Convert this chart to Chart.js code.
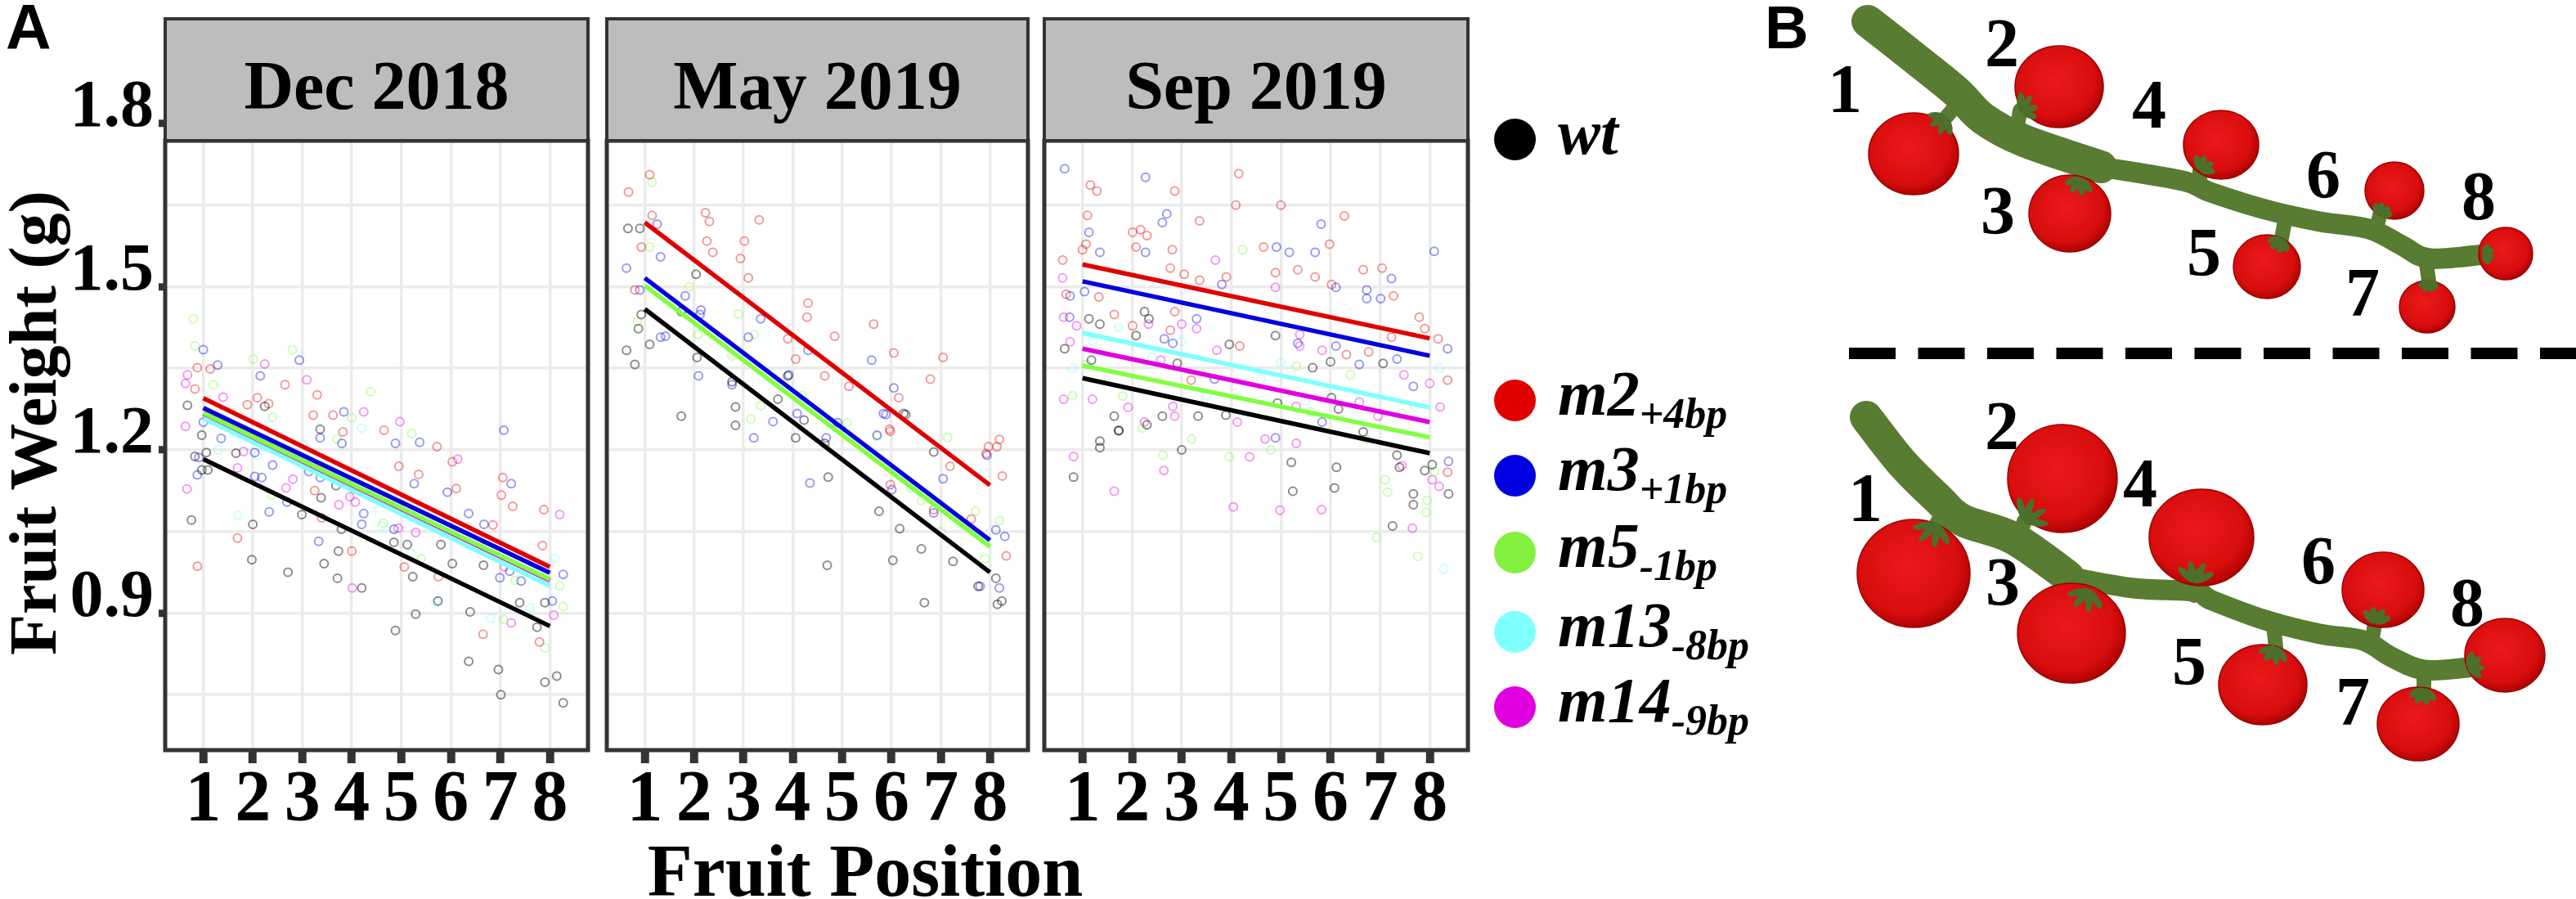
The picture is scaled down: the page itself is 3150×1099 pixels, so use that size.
<!DOCTYPE html>
<html lang="en">
  <head>
    <meta charset="UTF-8" />
    <title>Fruit weight by fruit position</title>
    <script src="https://cdn.jsdelivr.net/npm/chart.js"></script>
    <style>
      * {
        box-sizing: border-box;
        margin: 0;
        padding: 0;
      }
      html,
      body {
        width: 3150px;
        height: 1099px;
        background: #fff;
        overflow: hidden;
      }
      .figure {
        position: relative;
        width: 3150px;
        height: 1099px;
        font-family: "Liberation Serif", "Times New Roman", Tinos, "DejaVu Serif", serif;
      }
      .facet {
        position: absolute;
        top: 0;
      }
      .panel-letter {
        position: absolute;
        font-family: "Liberation Sans", Arial, Arimo, sans-serif;
        font-weight: bold;
        line-height: 1;
      }
      .axis-title {
        position: absolute;
        font-weight: bold;
        line-height: 1;
        white-space: nowrap;
        color: #000;
      }
      .axis-title--y {
        font-size: 82px;
        transform: translate(-50%, -50%) rotate(-90deg);
      }
      .axis-title--x {
        font-size: 90px;
        transform: translateX(-50%);
      }
      .key__dot {
        position: absolute;
        width: 51px;
        height: 51px;
        border-radius: 50%;
      }
      .key__label {
        position: absolute;
        font-style: italic;
        font-weight: bold;
        font-size: 78px;
        line-height: 1;
        white-space: nowrap;
      }
      .key__label sub {
        font-size: 52px;
        vertical-align: -16px;
      }
      svg.drawing {
        position: absolute;
        left: 0;
        top: 0;
      }
    </style>
  </head>
  <body>
    <div class="figure" id="figure">
      <canvas class="facet" id="facetDec" width="726" height="1099" style="left: 0px"></canvas>
      <canvas class="facet" id="facetMay" width="529" height="1099" style="left: 735px"></canvas>
      <canvas class="facet" id="facetSep" width="532" height="1099" style="left: 1270px"></canvas>

      <div class="panel-letter" style="left: 7px; top: -5px; font-size: 77px">A</div>
      <div class="panel-letter" style="left: 2158px; top: -3px; font-size: 74px">B</div>

      <div class="axis-title axis-title--y" style="left: 41px; top: 517px">Fruit Weight (g)</div>
      <div class="axis-title axis-title--x" style="left: 1058px; top: 1020px">Fruit Position</div>

      <div id="legend"></div>
      <svg class="drawing" id="drawing" width="3150" height="1099" viewBox="0 0 3150 1099"></svg>
    </div>

    <script>
      // ---- data ----
      const positions = [1, 2, 3, 4, 5, 6, 7, 8];
      const yGridValues = [0.75, 0.9, 1.05, 1.2, 1.35, 1.5, 1.65, 1.8];
      const yLabelValues = [0.9, 1.2, 1.5, 1.8];
      const facetNames = ["Dec 2018", "May 2019", "Sep 2019"];
      const genotypes = ["wt", "m2", "m3", "m5", "m13", "m14"];
      const alleles = ["", "+4bp", "+1bp", "-1bp", "-8bp", "-9bp"];
      const colours = ["#000000", "#e00000", "#0000e0", "#80ff40", "#80ffff", "#e000e0"];

      // fitted line values at position 1 and position 8 (same order as genotypes)
      const decFitAt1 = [1.183, 1.295, 1.277, 1.268, 1.258, 1.266];
      const decFitAt8 = [0.876, 0.985, 0.974, 0.962, 0.95, 0.96];
      const mayFitAt1 = [1.459, 1.618, 1.516, 1.502, null, null];
      const mayFitAt8 = [0.975, 1.135, 1.034, 1.022, null, null];
      const sepFitAt1 = [1.332, 1.541, 1.51, 1.355, 1.415, 1.386];
      const sepFitAt8 = [1.194, 1.405, 1.373, 1.223, 1.278, 1.251];

      // jittered single fruit weights [position, weight]
      const decWt = [[0.68,1.282],[0.97,1.227],[2.24,1.28],[3.36,1.238],[0.83,1.188],[1.06,1.195],[0.97,1.163],[1.09,1.163],[0.76,1.071],[1.66,1.194],[2.0,1.063],[1.98,0.998],[2.71,0.975],[3.38,1.112],[2.99,1.081],[3.44,0.991],[3.73,1.014],[3.71,0.964],[3.68,1.134],[3.79,1.054],[4.2,0.946],[4.85,1.03],[5.12,1.026],[5.23,0.967],[5.29,0.898],[4.88,0.868],[5.8,1.026],[6.03,0.991],[5.74,0.922],[6.66,0.988],[6.39,0.902],[6.36,0.811],[6.96,0.796],[7.01,0.75],[7.9,0.919],[7.74,0.874],[7.9,0.773],[8.14,0.784],[8.27,0.735],[7.39,0.919]];
      const decM2 = [[0.88,1.351],[1.14,1.349],[0.83,1.312],[1.89,1.283],[2.09,1.296],[2.32,1.285],[2.65,1.32],[3.3,1.301],[3.22,1.264],[3.62,1.264],[3.82,1.233],[4.65,1.236],[5.72,1.206],[1.69,1.038],[0.88,0.986],[3.25,1.125],[3.39,1.075],[4.0,1.014],[5.06,0.985],[5.35,1.155],[4.95,1.17],[6.03,1.178],[6.11,1.129],[5.75,0.967],[6.85,1.062],[7.05,1.149],[7.02,1.117],[7.25,1.096],[6.65,0.861],[7.88,1.09],[7.85,1.024],[7.79,0.847]];
      const decM3 = [[1.0,1.384],[1.29,1.356],[1.0,1.251],[1.36,1.221],[2.15,1.336],[2.94,1.365],[3.84,1.27],[3.36,1.222],[3.8,1.212],[4.88,1.212],[5.37,1.214],[7.07,1.236],[0.91,1.186],[0.88,1.154],[2.04,1.195],[2.4,1.172],[2.04,1.151],[2.18,1.149],[2.33,1.086],[2.69,1.104],[3.13,1.16],[3.36,1.149],[3.33,1.032],[4.24,1.083],[4.2,1.063],[4.85,1.054],[5.26,1.138],[5.93,1.122],[6.36,1.083],[6.67,1.063],[7.22,1.138],[7.19,0.977],[6.99,0.965],[7.42,0.959],[8.27,0.971],[8.05,0.922]];
      const decM5 = [[0.8,1.441],[0.83,1.391],[2.01,1.367],[2.8,1.384],[4.0,1.259],[4.38,1.307],[5.21,1.23],[2.38,1.117],[4.64,1.065],[7.07,0.888],[8.27,0.912],[7.9,0.836],[1.2,1.32],[2.4,1.26],[3.7,1.22],[5.4,1.0],[6.6,1.02],[7.3,0.96],[8.2,0.95]];
      const decM13 = [[1.3,1.2],[2.1,1.19],[4.6,1.06],[5.7,0.92],[6.8,0.89],[7.6,0.91],[3.0,1.21],[1.7,1.08],[5.2,1.01],[8.1,1.0],[6.3,1.04],[4.2,1.24]];
      const decM14 = [[0.68,1.338],[0.64,1.322],[0.64,1.243],[1.4,1.297],[2.24,1.358],[3.09,1.329],[4.24,1.27],[4.97,1.252],[0.67,1.128],[1.81,1.197],[1.69,1.167],[2.81,1.146],[2.67,1.13],[3.74,1.099],[3.96,1.114],[4.07,1.104],[4.01,0.946],[4.94,1.056],[5.29,1.048],[6.14,1.183],[7.08,0.985],[7.22,0.882],[8.2,1.081],[8.08,0.896]];

      const mayWt = [[0.66,1.607],[0.9,1.607],[0.93,1.449],[0.87,1.423],[1.1,1.394],[0.63,1.383],[0.8,1.357],[2.04,1.523],[1.74,1.454],[2.06,1.37],[2.77,1.325],[1.74,1.262],[2.84,1.279],[2.84,1.245],[3.7,1.293],[3.9,1.336],[4.06,1.222],[6.25,1.267],[4.65,1.212],[6.29,1.265],[4.23,1.255],[4.72,1.15],[6.86,1.196],[5.75,1.087],[6.17,1.055],[6.03,0.997],[4.7,0.988],[6.61,1.018],[7.25,0.995],[6.67,0.919],[7.76,0.949],[8.12,0.964],[8.15,0.916],[8.24,0.922]];
      const mayM2 = [[1.1,1.706],[0.67,1.674],[1.15,1.631],[0.93,1.573],[0.8,1.494],[2.23,1.636],[2.31,1.62],[3.32,1.623],[2.26,1.584],[2.38,1.563],[3.02,1.584],[2.94,1.552],[3.1,1.516],[4.31,1.47],[4.29,1.444],[3.9,1.404],[4.06,1.367],[4.85,1.409],[4.65,1.336],[5.64,1.431],[6.05,1.378],[7.05,1.37],[6.79,1.33],[6.15,1.296],[5.96,1.238],[5.14,1.317],[8.14,1.206],[7.92,1.193],[5.98,1.234],[7.19,1.17],[8.19,1.219],[7.97,1.206],[8.25,1.152],[5.98,1.136],[8.33,1.005],[6.86,1.09],[7.62,1.073]];
      const mayM3 = [[1.25,1.615],[1.32,1.555],[0.63,1.534],[0.9,1.494],[1.32,1.407],[1.82,1.483],[2.14,1.457],[2.12,1.449],[1.42,1.409],[2.09,1.336],[2.77,1.32],[3.1,1.407],[3.35,1.441],[3.21,1.222],[3.6,1.252],[3.92,1.338],[4.09,1.267],[4.31,1.383],[5.6,1.365],[6.05,1.314],[5.84,1.267],[5.71,1.227],[5.89,1.265],[4.91,1.25],[4.68,1.222],[4.35,1.139],[7.05,1.147],[7.94,1.19],[6.01,1.127],[7.8,0.949],[8.19,0.946],[8.12,1.053],[8.3,1.041],[6.86,1.084]];
      const mayM5 = [[1.15,1.692],[1.1,1.573],[0.85,1.436],[2.08,1.412],[3.22,1.412],[2.77,1.373],[3.35,1.281],[3.15,1.257],[5.71,1.225],[7.14,1.223],[8.19,1.07],[7.71,1.087],[6.61,1.107],[4.2,1.3],[5.1,1.25],[6.4,1.13],[7.0,1.05],[7.9,1.0],[2.9,1.45],[1.9,1.5]];
      const mayM13 = [];
      const mayM14 = [];

      const sepWt = [[1.13,1.441],[1.35,1.431],[2.25,1.454],[2.34,1.441],[2.08,1.41],[3.96,1.394],[4.89,1.41],[7.06,1.359],[5.64,1.351],[6.0,1.362],[2.91,1.359],[1.18,1.365],[0.64,1.386],[1.64,1.262],[2.61,1.262],[2.3,1.246],[1.73,1.235],[3.33,1.262],[3.89,1.264],[4.93,1.286],[6.02,1.296],[6.16,1.275],[6.66,1.233],[1.35,1.204],[1.73,1.236],[1.35,1.216],[0.82,1.15],[3.0,1.2],[5.21,1.177],[5.24,1.124],[6.08,1.13],[6.12,1.168],[7.25,1.06],[7.67,1.119],[7.67,1.099],[7.39,1.168],[8.05,1.173],[7.9,1.162],[8.38,1.119],[7.34,1.19]];
      const sepM2 = [[1.16,1.687],[1.29,1.676],[2.86,1.676],[1.1,1.631],[2.01,1.6],[2.17,1.605],[2.3,1.594],[1.07,1.578],[1.0,1.568],[2.08,1.573],[2.81,1.568],[4.15,1.708],[4.09,1.65],[5.0,1.65],[3.36,1.621],[6.28,1.63],[4.65,1.573],[5.98,1.578],[2.77,1.534],[3.05,1.523],[3.36,1.512],[3.9,1.518],[4.89,1.526],[5.34,1.531],[5.69,1.518],[6.02,1.504],[6.66,1.531],[7.04,1.534],[7.27,1.483],[0.6,1.549],[0.67,1.486],[1.33,1.481],[1.64,1.449],[2.86,1.454],[2.01,1.428],[2.77,1.42],[4.17,1.391],[6.32,1.375],[6.77,1.38],[7.23,1.407],[7.79,1.444],[7.9,1.423],[8.17,1.404],[8.36,1.328],[3.19,1.328],[8.36,1.159]];
      const sepM3 = [[0.64,1.717],[2.27,1.701],[2.7,1.634],[2.61,1.618],[1.13,1.6],[1.35,1.563],[2.27,1.563],[5.81,1.615],[4.91,1.573],[5.17,1.563],[5.69,1.563],[8.09,1.565],[3.81,1.504],[6.11,1.499],[7.23,1.515],[6.73,1.494],[7.01,1.478],[6.73,1.478],[0.75,1.483],[1.04,1.491],[0.74,1.444],[3.3,1.441],[2.65,1.404],[2.82,1.396],[5.34,1.396],[6.11,1.391],[6.58,1.357],[7.34,1.367],[8.36,1.386],[7.67,1.317],[3.66,1.33],[5.83,1.251],[4.89,1.222],[8.38,1.179]];
      const sepM5 = [[4.23,1.568],[6.4,1.338],[5.31,1.354],[1.07,1.357],[1.81,1.299],[7.43,1.267],[2.62,1.19],[3.96,1.187],[6.93,1.039],[7.76,1.004],[7.95,1.107],[7.15,1.122],[7.93,1.085],[7.1,1.145],[0.8,1.3],[2.2,1.24],[3.2,1.22],[4.8,1.2],[5.6,1.27],[6.7,1.22],[8.1,1.16]];
      const sepM13 = [[1.73,1.425],[1.2,1.4],[2.4,1.37],[3.5,1.3],[4.6,1.33],[5.5,1.29],[6.6,1.3],[7.7,1.28],[8.2,1.35],[0.8,1.35],[8.28,0.981],[3.0,1.4],[5.0,1.36]];
      const sepM14 = [[3.68,1.549],[0.6,1.516],[4.89,1.499],[0.62,1.444],[0.88,1.428],[2.33,1.431],[3.0,1.431],[3.3,1.423],[5.38,1.412],[5.38,1.391],[5.83,1.383],[7.48,1.338],[8.0,1.322],[8.21,1.279],[2.58,1.365],[3.71,1.383],[0.75,1.399],[1.2,1.293],[0.62,1.293],[1.92,1.278],[2.82,1.28],[2.86,1.262],[2.25,1.251],[4.12,1.251],[5.31,1.28],[6.58,1.288],[6.96,1.262],[4.68,1.22],[5.31,1.212],[0.82,1.188],[1.64,1.124],[2.64,1.162],[4.37,1.187],[4.04,1.095],[4.98,1.089],[5.82,1.09],[7.65,1.056],[7.44,1.171],[8.05,1.145],[8.19,1.133]];

      const serifFamily = '"Liberation Serif", "Times New Roman", Tinos, "DejaVu Serif", serif';

      // ---- facet panels ----
      function withAlpha(hex, a) {
        const n = parseInt(hex.slice(1), 16);
        return `rgba(${(n >> 16) & 255}, ${(n >> 8) & 255}, ${n & 255}, ${a})`;
      }

      const facetStrip = {
        id: "facetStrip",
        afterDraw(chart, args, opts) {
          const { ctx, chartArea: a } = chart;
          const stripTop = 23;
          const panelTop = 172;
          ctx.save();
          ctx.lineWidth = 5;
          ctx.strokeStyle = "#333333";
          ctx.strokeRect(a.left, panelTop, a.right - a.left, a.bottom - panelTop);
          ctx.fillStyle = "#bdbdbd";
          ctx.fillRect(a.left, stripTop, a.right - a.left, panelTop - stripTop);
          ctx.lineWidth = 4;
          ctx.strokeRect(a.left, stripTop, a.right - a.left, panelTop - stripTop);
          ctx.fillStyle = "#000";
          ctx.font = "bold 84px " + serifFamily;
          ctx.textAlign = "center";
          ctx.textBaseline = "alphabetic";
          ctx.fillText(opts.label, (a.left + a.right) / 2, 133);
          ctx.restore();
        },
      };

      const lineOrder = [2, 0, 1, 4, 3, 5];

      function buildDatasets(points, fitAt1, fitAt8) {
        const sets = [];
        genotypes.forEach((g, i) => {
          sets.push({
            label: g + " points",
            data: points[i].map((p) => ({ x: p[0], y: p[1] })),
            showLine: false,
            pointStyle: "circle",
            pointRadius: 5,
            pointBorderWidth: 2,
            pointBackgroundColor: "rgba(0,0,0,0)",
            pointBorderColor: withAlpha(colours[i], i === 0 ? 0.45 : 0.4),
            order: 10,
          });
        });
        genotypes.forEach((g, i) => {
          if (fitAt1[i] == null) return;
          sets.push({
            label: g + " fit",
            data: [
              { x: positions[0], y: fitAt1[i] },
              { x: positions[positions.length - 1], y: fitAt8[i] },
            ],
            showLine: true,
            borderColor: colours[i],
            borderWidth: 5.5,
            pointRadius: 0,
            order: lineOrder[i],
          });
        });
        return sets;
      }

      function facetOptions(label, first) {
        const tickFont = { family: serifFamily, weight: "bold", size: 88, lineHeight: 1 };
        return {
          responsive: false,
          devicePixelRatio: 1,
          animation: false,
          events: [],
          layout: { padding: { top: 151, right: 4, bottom: 0, left: first ? 0 : 4 } },
          plugins: {
            legend: { display: false },
            tooltip: { enabled: false },
            facetStrip: { label },
          },
          scales: {
            x: {
              type: "linear",
              min: 0.23,
              max: 8.77,
              afterBuildTicks: (s) => {
                s.ticks = positions.map((v) => ({ value: v }));
              },
              afterFit: (s) => {
                s.height = 182;
              },
              border: { display: false },
              grid: {
                color: "#ebebeb",
                lineWidth: 3.5,
                tickColor: "#333333",
                tickWidth: 10,
                tickLength: 16,
              },
              ticks: {
                autoSkip: false,
                maxRotation: 0,
                minRotation: 0,
                padding: 2,
                color: "#000",
                font: tickFont,
                callback: (v) => String(v),
              },
            },
            y: {
              type: "linear",
              min: 0.648,
              max: 1.8,
              afterBuildTicks: (s) => {
                s.ticks = yGridValues.map((v) => ({ value: v }));
              },
              afterFit: (s) => {
                s.width = first ? 202 : 0;
              },
              border: { display: false },
              grid: {
                color: "#ebebeb",
                lineWidth: 3.5,
                drawTicks: first,
                tickLength: 8,
                tickWidth: 9,
                tickColor: (ctx) =>
                  ctx.tick && yLabelValues.some((m) => Math.abs(m - ctx.tick.value) < 1e-6)
                    ? "#333333"
                    : "rgba(0,0,0,0)",
              },
              ticks: {
                display: first,
                autoSkip: false,
                padding: 6,
                labelOffset: -18,
                color: "#000",
                font: { family: serifFamily, weight: "bold", size: 82, lineHeight: 1 },
                callback: (v) =>
                  yLabelValues.some((m) => Math.abs(m - v) < 1e-6) ? v.toFixed(1) : "",
              },
            },
          },
        };
      }

      function makeFacet(id, name, points, fitAt1, fitAt8, first) {
        return new Chart(document.getElementById(id), {
          type: "scatter",
          data: { datasets: buildDatasets(points, fitAt1, fitAt8) },
          options: facetOptions(name, first),
          plugins: [facetStrip],
        });
      }

      makeFacet("facetDec", facetNames[0], [decWt, decM2, decM3, decM5, decM13, decM14], decFitAt1, decFitAt8, true);
      makeFacet("facetMay", facetNames[1], [mayWt, mayM2, mayM3, mayM5, mayM13, mayM14], mayFitAt1, mayFitAt8, false);
      makeFacet("facetSep", facetNames[2], [sepWt, sepM2, sepM3, sepM5, sepM13, sepM14], sepFitAt1, sepFitAt8, false);

      // ---- legend ----
      const keyCentres = [170, 489, 581, 675, 772, 864];
      const legend = document.getElementById("legend");
      genotypes.forEach((g, i) => {
        const dot = document.createElement("span");
        dot.className = "key__dot";
        dot.style.background = colours[i] === "#80ff40" ? "#84f040" : colours[i];
        dot.style.left = 1852 - 25.5 + "px";
        dot.style.top = keyCentres[i] - 25.5 + "px";
        legend.appendChild(dot);
        const lab = document.createElement("span");
        lab.className = "key__label";
        lab.style.left = "1905px";
        lab.style.top = keyCentres[i] - 47 + "px";
        lab.innerHTML = g + (alleles[i] ? "<sub>" + alleles[i] + "</sub>" : "");
        legend.appendChild(lab);
      });

      // ---- panel B: truss drawings ----
      const SVGNS = "http://www.w3.org/2000/svg";
      const svg = document.getElementById("drawing");
      function el(tag, attrs, parent) {
        const node = document.createElementNS(SVGNS, tag);
        for (const k in attrs) node.setAttribute(k, attrs[k]);
        (parent || svg).appendChild(node);
        return node;
      }
      function smoothPath(pts) {
        let d = `M${pts[0][0]},${pts[0][1]}`;
        for (let i = 0; i < pts.length - 1; i++) {
          const p0 = pts[i - 1] || pts[i];
          const p1 = pts[i];
          const p2 = pts[i + 1];
          const p3 = pts[i + 2] || p2;
          const c1 = [p1[0] + (p2[0] - p0[0]) / 6, p1[1] + (p2[1] - p0[1]) / 6];
          const c2 = [p2[0] - (p3[0] - p1[0]) / 6, p2[1] - (p3[1] - p1[1]) / 6];
          d += ` C${c1[0]},${c1[1]} ${c2[0]},${c2[1]} ${p2[0]},${p2[1]}`;
        }
        return d;
      }

      const defs = el("defs", {});
      const grad = el("radialGradient", { id: "tomato", cx: "0.45", cy: "0.42", r: "0.62" }, defs);
      el("stop", { offset: "0", "stop-color": "#ec1a1a" }, grad);
      el("stop", { offset: "0.72", "stop-color": "#d80d0d" }, grad);
      el("stop", { offset: "1", "stop-color": "#a30000" }, grad);

      const trusses = [
        {
          upper: [[2284, 26], [2340, 70], [2392, 112], [2425, 145], [2475, 172], [2569, 204]],
          lower: [[2569, 204], [2669, 221], [2703, 235], [2770, 256], [2837, 271], [2897, 280], [2937, 300], [2971, 316], [3038, 311]],
          fruits: [
            [2340, 188, 55, 50, 2380, 143, 2398, 122],
            [2518, 106, 54, 50, 2470, 135, 2466, 162],
            [2531, 261, 50, 47, 2545, 218, 2556, 198],
            [2716, 177, 46, 42, 2690, 208, 2690, 228],
            [2772, 326, 41, 39, 2790, 292, 2795, 264],
            [2928, 233, 36, 35, 2910, 263, 2905, 284],
            [2968, 375, 34, 32, 2970, 343, 2966, 316],
            [3064, 310, 33, 32, 3036, 311, 3036, 311],
          ],
          labels: [["1", 2256, 137], ["2", 2448, 81], ["3", 2443, 286], ["4", 2628, 156], ["5", 2695, 337], ["6", 2841, 242], ["7", 2889, 386], ["8", 3031, 268]],
        },
        {
          upper: [[2282, 510], [2325, 565], [2370, 610], [2400, 636], [2462, 658], [2529, 705]],
          lower: [[2529, 705], [2609, 719], [2683, 723], [2705, 734], [2770, 758], [2837, 775], [2890, 783], [2924, 803], [2964, 819], [3018, 816]],
          fruits: [
            [2340, 701, 69, 66, 2368, 640, 2382, 616],
            [2522, 585, 67, 66, 2475, 637, 2470, 660],
            [2533, 774, 66, 61, 2555, 721, 2560, 708],
            [2692, 657, 64, 59, 2683, 712, 2683, 728],
            [2767, 837, 54, 49, 2783, 791, 2780, 764],
            [2914, 721, 50, 46, 2904, 762, 2900, 786],
            [2957, 885, 50, 45, 2964, 842, 2964, 819],
            [3063, 801, 49, 45, 3018, 816, 3018, 816],
          ],
          labels: [["1", 2281, 637], ["2", 2448, 549], ["3", 2449, 740], ["4", 2617, 619], ["5", 2677, 837], ["6", 2835, 714], ["7", 2877, 886], ["8", 3017, 765]],
        },
      ];

      const stemColour = "#587c31";
      const calyxColour = "#4c6f2c";
      trusses.forEach((t) => {
        t.fruits.forEach((f) => {
          el("line", { x1: f[6], y1: f[7], x2: f[4], y2: f[5], stroke: stemColour, "stroke-width": 18, "stroke-linecap": "round" });
        });
        el("path", { d: smoothPath(t.upper), fill: "none", stroke: stemColour, "stroke-width": 40, "stroke-linecap": "round", "stroke-linejoin": "round" });
        el("path", { d: smoothPath(t.lower), fill: "none", stroke: stemColour, "stroke-width": 25, "stroke-linecap": "round", "stroke-linejoin": "round" });
        t.fruits.forEach((f) => {
          el("ellipse", { cx: f[0], cy: f[1], rx: f[2], ry: f[3], fill: "url(#tomato)", stroke: "#9c0000", "stroke-width": 1.5 });
          const ang = (Math.atan2(f[1] - f[5], f[0] - f[4]) * 180) / Math.PI;
          const len = Math.min(f[2], f[3]) * 0.45;
          [-55, -20, 20, 55].forEach((da) => {
            const g = el("g", { transform: `translate(${f[4]},${f[5]}) rotate(${ang + da})` });
            el("ellipse", { cx: len / 2, cy: 0, rx: len / 2, ry: 4.5, fill: calyxColour }, g);
          });
        });
        t.labels.forEach((l) => {
          const txt = el("text", {
            x: l[1],
            y: l[2],
            "text-anchor": "middle",
            "font-family": serifFamily,
            "font-weight": "bold",
            "font-size": 84,
            fill: "#000",
          });
          txt.textContent = l[0];
        });
      });

      el("line", { x1: 2261, y1: 432, x2: 3150, y2: 432, stroke: "#000", "stroke-width": 14, "stroke-dasharray": "57 27.5" });
    </script>
  </body>
</html>
